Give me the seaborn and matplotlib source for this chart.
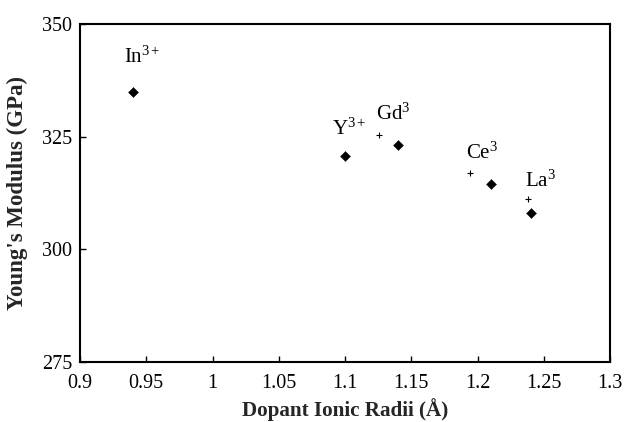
import matplotlib
matplotlib.use("Agg")
import matplotlib.pyplot as plt
import seaborn as sns
import pandas as pd

# Data
dopants = ["In", "Y", "Gd", "Ce", "La"]
ionic_radii = [0.94, 1.10, 1.14, 1.21, 1.24]
youngs_modulus = [335.0, 320.6, 323.2, 314.4, 308.0]

plus_radii = [1.126, 1.194, 1.238]
plus_modulus = [325.4, 316.9, 311.2]

label_texts = [r"In$^{3+}$", r"Y$^{3+}$", r"Gd$^{3}$", r"Ce$^{3}$", r"La$^{3}$"]
label_x = [0.9468, 1.1034, 1.1362, 1.2038, 1.2472]
label_y = [340.3, 324.2, 327.6, 318.9, 312.7]

xticks = [0.9, 0.95, 1.0, 1.05, 1.1, 1.15, 1.2, 1.25, 1.3]
xtick_labels = ["0.9", "0.95", "1", "1.05", "1.1", "1.15", "1.2", "1.25", "1.3"]
yticks = [275, 300, 325, 350]

sns.set_theme(style="white")
plt.rcParams["font.family"] = ["Liberation Serif", "DejaVu Serif"]
plt.rcParams["mathtext.fontset"] = "custom"
plt.rcParams["mathtext.rm"] = "Liberation Serif"
plt.rcParams["mathtext.it"] = "Liberation Serif:italic"
plt.rcParams["mathtext.bf"] = "Liberation Serif:bold"

df = pd.DataFrame({"radius": ionic_radii, "modulus": youngs_modulus, "dopant": dopants})
dfp = pd.DataFrame({"radius": plus_radii, "modulus": plus_modulus})

fig = plt.figure(figsize=(6.24, 4.22), dpi=100)
ax = fig.add_axes([80 / 624, 1 - 362 / 422, 530 / 624, 338 / 422])

sns.scatterplot(data=df, x="radius", y="modulus", marker="D", s=26,
                color="black", edgecolor="black", linewidth=0.3, ax=ax, legend=False)
sns.scatterplot(data=dfp, x="radius", y="modulus", marker="+", s=18,
                color="black", linewidth=0.8, ax=ax, legend=False)

for t, x, y in zip(label_texts, label_x, label_y):
    ax.text(x, y, t, fontsize=15, ha="center", va="bottom", color="black")

ax.set_xlim(0.9, 1.3)
ax.set_ylim(275, 350)
ax.set_xticks(xticks)
ax.set_xticklabels(xtick_labels)
ax.set_yticks(yticks)
ax.tick_params(axis="both", direction="in", length=4, width=1, labelsize=14.5,
               colors="black", bottom=True, left=True, top=False, right=False)
ax.tick_params(axis="x", pad=9)
ax.tick_params(axis="y", pad=5.5)
for sp in ax.spines.values():
    sp.set_color("black")
    sp.set_linewidth(1.5)

ax.set_xlabel("Dopant Ionic Radii (Å)", fontsize=15.2, fontweight="bold", labelpad=3)
ax.set_ylabel("Young's Modulus (GPa)", fontsize=16.5, fontweight="bold", labelpad=10)
ax.grid(False)

fig.savefig("out.png", dpi=100)
